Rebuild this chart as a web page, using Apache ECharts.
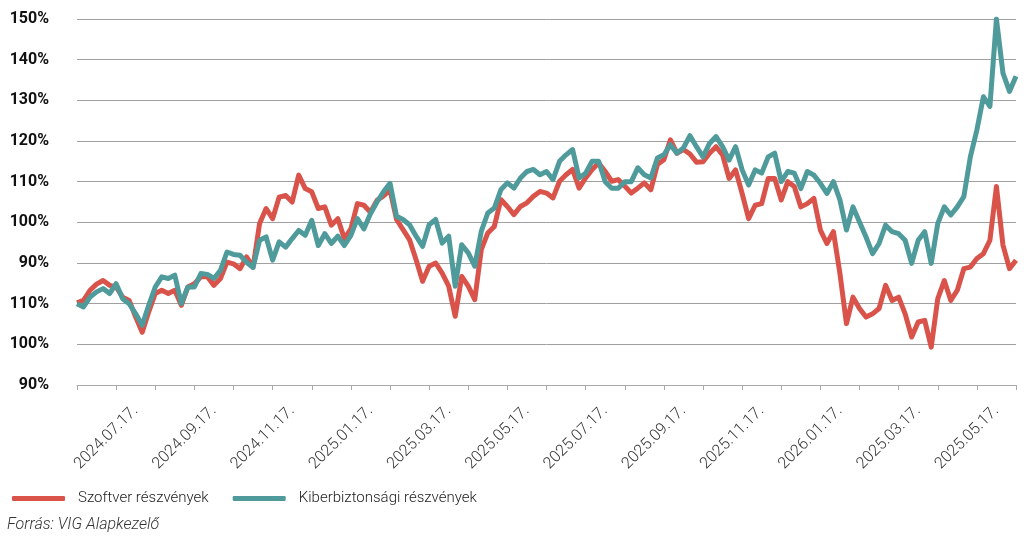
<!DOCTYPE html>
<html>
<head>
<meta charset="utf-8">
<script src="https://cdn.jsdelivr.net/npm/echarts@6/dist/echarts.min.js"></script>
<style>
html,body{margin:0;padding:0;background:#fff;}
#chart{width:1024px;height:544px;}
</style>
</head>
<body>
<div id="chart"></div>
<script>
// Tick labels (bottom to top for y), as printed in the source chart
const yTickLabels = ['90%','100%','110%','90%','100%','110%','120%','130%','140%','150%'];
const xTickLabels = ['2024.07.17.','2024.09.17.','2024.11.17.','2025.01.17.','2025.03.17.','2025.05.17.',
  '2025.07.17.','2025.09.17.','2025.11.17.','2026.01.17.','2025.03.17.','2025.05.17.'];
const seriesNames = ['Szoftver részvények','Kiberbiztonsági részvények'];

// values in axis units (grid rows 60..150), one point per 1/6 month
const szoftver = [80.2,80.8,83.3,84.8,85.7,84.5,84.1,81.6,80.8,76.7,73,78,82.5,83.3,82.5,83.3,79.6,84.1,84.9,86.6,
  86.6,84.5,86.2,90.2,89.8,88.6,91.5,89,99.7,103.4,100.9,106.2,106.6,105,111.6,108.3,107.5,103.4,103.8,99.3,
  100.9,96,98.4,104.6,104.2,102.5,105.4,106.5,108,100.7,98.2,95.7,90.8,85.5,89.2,90,87.5,84.3,76.9,86.7,
  84.3,81,93.3,97.4,99,105.6,103.9,101.9,103.9,104.8,106.4,107.6,107.2,106,110.1,111.7,113,108.4,110.9,113,
  114.6,112.5,110.1,110.5,108.9,107.2,108.4,109.7,108,114.2,115.4,120.3,117,117.9,116.8,114.8,114.9,117,118.6,116.6,
  110.8,112.9,107.1,100.9,104.2,104.6,110.8,110.8,105.5,110,108.8,103.8,104.6,105.9,98.1,94.8,97.7,87.4,75.1,81.6,
  78.8,76.7,77.5,78.8,84.5,80.8,81.6,77.5,71.8,75.5,75.9,69.3,81.2,85.7,80.8,83.3,88.6,89,91.1,92.3,
  95.6,108.8,94.4,88.6,90.7];
const kiber = [80,79.2,81.6,82.9,83.7,82.5,84.9,81.2,80,77.5,74.7,79.6,84.1,86.6,86.2,87,80,84.1,84.1,87.4,
  87.2,86.2,88.2,92.7,92.1,91.9,90.2,88.9,95.6,96.4,90.7,95.2,93.9,96,98,96.8,100.5,94.3,97.2,94.8,
  96.6,94.3,96.8,100.9,98.4,102.1,105,107.5,109.6,101.5,100.7,99.4,96.6,94.1,99.4,100.7,94.9,96.6,84.3,94.5,
  92.5,89.2,97.8,102.3,103.5,108,109.7,108.4,110.9,112.5,113,111.7,112.5,110.5,115,116.6,117.9,110.9,112.1,115,
  115,110,108.4,108.4,110,110,113.4,111.7,110.9,115.8,116.6,119.1,117,118.3,121.3,118.6,116.1,119.4,121.1,118.6,
  115.3,118.6,112.9,109.2,112.9,112.1,116.1,117,110,112.5,112.1,108.3,112.5,111.6,109.6,107.1,110,105.5,98.1,103.8,
  100.1,96.4,92.3,94.8,99.3,97.7,97.2,95.6,89.9,95.6,97.7,89.9,99.7,103.8,101.8,103.8,106.3,116.1,122.7,130.9,
  128.5,150,136.7,132.2,135.9];

const PTS_PER_TICK = 6;
const toXY = arr => arr.map((v, i) => [i, v]);

const chart = echarts.init(document.getElementById('chart'), null, {renderer: 'canvas'});
chart.setOption({
  animation: false,
  backgroundColor: '#fff',
  grid: {left: 77, right: 8, top: 19, bottom: 159, containLabel: false},
  xAxis: {
    type: 'value',
    min: 0,
    max: szoftver.length - 1,
    interval: PTS_PER_TICK,
    axisLine: {show: true, lineStyle: {color: '#aaaaaa', width: 1}},
    axisTick: {show: true, length: 5, lineStyle: {color: '#aaaaaa'}},
    splitLine: {show: false},
    axisLabel: {
      rotate: 45,
      margin: 4,
      fontFamily: 'Roboto',
      fontSize: 16,
      fontWeight: 300,
      color: '#333',
      verticalAlign: 'top',
      lineHeight: 55,
      showMinLabel: true,
      showMaxLabel: true,
      hideOverlap: false,
      formatter: function (v) {
        const t = Math.round(v / PTS_PER_TICK);
        if (t % 2 === 1) return xTickLabels[(t - 1) / 2] || '';
        return '';
      }
    }
  },
  yAxis: {
    type: 'value',
    min: 60,
    max: 150,
    interval: 10,
    axisLine: {show: false},
    axisTick: {show: false},
    splitLine: {show: true, lineStyle: {color: '#a0a0a0', width: 1}},
    axisLabel: {
      margin: 28,
      fontFamily: 'Roboto',
      fontSize: 16,
      fontWeight: 'bold',
      color: '#111',
      formatter: function (v) {
        return yTickLabels[Math.round((v - 60) / 10)];
      }
    }
  },
  legend: {
    left: 7,
    top: 486,
    itemWidth: 53,
    itemHeight: 5,
    itemGap: 24,
    icon: 'roundRect',
    textStyle: {fontFamily: 'Roboto', fontSize: 15, fontWeight: 300, color: '#222', padding: [0, 0, 0, 8]},
    data: seriesNames
  },
  graphic: [{
    type: 'text',
    left: 7,
    top: 517,
    style: {text: 'Forrás: VIG Alapkezelő', font: 'italic 300 16px Roboto', fill: '#333'}
  }],
  series: [
    {
      name: seriesNames[0], type: 'line', data: toXY(szoftver), showSymbol: false,
      lineStyle: {color: '#d9534a', width: 5, join: 'round'}, itemStyle: {color: '#d9534a'}
    },
    {
      name: seriesNames[1], type: 'line', data: toXY(kiber), showSymbol: false,
      lineStyle: {color: '#4f9a9b', width: 5, join: 'round'}, itemStyle: {color: '#4f9a9b'}
    }
  ]
});
</script>
</body>
</html>
